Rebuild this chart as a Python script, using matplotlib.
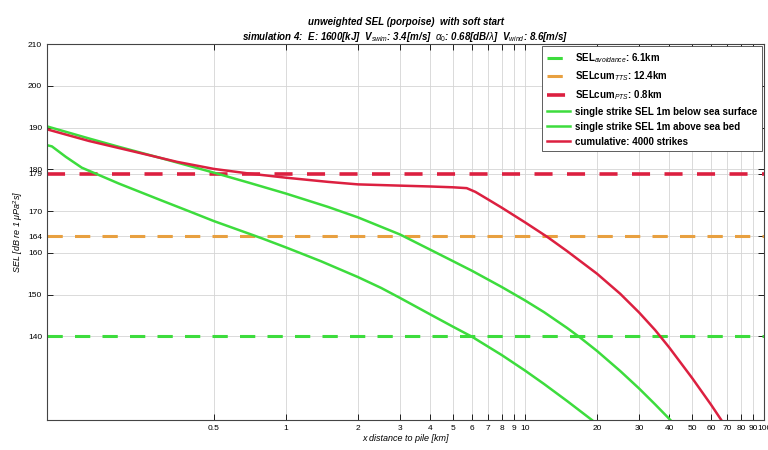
import numpy as np
import matplotlib.pyplot as plt

# distances [km] and SEL [dB]
km_surface = [0.1, 0.15, 0.2, 0.3, 0.5, 0.7, 1, 1.5, 2, 3, 4, 5, 6, 8, 10, 12, 15, 17, 20, 25, 30, 35, 40, 42]
sel_surface = [190.3, 187.4, 185.4, 182.7, 179.2, 176.8, 174.2, 171.0, 168.5, 164.4, 160.8, 158.0, 155.7,
               151.8, 148.6, 145.8, 142.0, 139.7, 136.5, 131.7, 127.5, 123.7, 120.3, 119.0]

km_bed = [0.1, 0.105, 0.12, 0.14, 0.2, 0.3, 0.4, 0.5, 0.7, 0.8, 1, 1.4, 2, 2.5, 3, 4, 5, 6, 8, 10, 12,
          15, 19, 21]
sel_bed = [185.8, 185.5, 183.0, 180.4, 176.6, 172.6, 169.8, 167.6, 164.6, 163.4, 161.3, 158.0, 154.2,
           151.6, 149.2, 145.3, 142.3, 139.9, 135.5, 131.8, 128.6, 124.5, 120.0, 118.0]

km_cum = [0.1, 0.15, 0.25, 0.35, 0.5, 0.7, 1, 1.5, 2, 3, 4, 5, 5.7, 6.2, 7, 8, 10, 12.4, 15, 20, 25, 30,
          35, 40, 50, 60, 67, 70]
sel_cum = [189.6, 186.8, 183.8, 181.8, 180.1, 179.0, 178.0, 177.0, 176.4, 176.1, 175.9, 175.7, 175.5,
           174.6, 172.8, 170.8, 167.3, 163.8, 160.4, 155.0, 150.2, 145.7, 141.5, 137.4, 130.0, 123.6,
           119.5, 117.5]

thr_avoid, thr_tts, thr_pts = 140, 164, 179
lbl_avoid = 'SEL$_{avoidance}$: 6.1km'
lbl_tts = 'SELcum$_{TTS}$: 12.4km'
lbl_pts = 'SELcum$_{PTS}$: 0.8km'

xticks = [0.5, 1, 2, 3, 4, 5, 6, 7, 8, 9, 10, 20, 30, 40, 50, 60, 70, 80, 90, 100]
xticklabels = ['0.5', '1', '2', '3', '4', '5', '6', '7', '8', '9', '10',
               '20', '30', '40', '50', '60', '70', '80', '90', '100']
yticks = [140, 150, 160, 164, 170, 179, 180, 190, 200, 210]

green = '#3ddc3d'
red = '#dc2040'
orange = '#e8a040'

plt.rcParams['font.family'] = ['Liberation Sans', 'DejaVu Sans']
plt.rcParams['mathtext.fontset'] = 'custom'
plt.rcParams['mathtext.it'] = 'Liberation Sans:italic'
plt.rcParams['mathtext.rm'] = 'Liberation Sans'

fig = plt.figure(figsize=(7.68, 4.5), dpi=100)
ax = fig.add_axes([0.061, 0.067, 0.934, 0.835])

ax.axhline(thr_avoid, color=green, lw=2.2, ls=(0, (5, 4)), label=lbl_avoid)
ax.axhline(thr_tts, color=orange, lw=2.2, ls=(0, (5, 4)), label=lbl_tts)
ax.axhline(thr_pts, color=red, lw=2.6, ls=(0, (5, 4)), label=lbl_pts)
ax.plot(km_surface, sel_surface, color=green, lw=1.8, label='single strike SEL 1m below sea surface')
ax.plot(km_bed, sel_bed, color=green, lw=1.8, label='single strike SEL 1m above sea bed')
ax.plot(km_cum, sel_cum, color=red, lw=1.8, label='cumulative: 4000 strikes')

ax.set_xscale('log')
ax.set_xlim(0.1, 100)
ax.set_ylim(120, 210)
ax.set_xticks(xticks)
ax.set_xticklabels(xticklabels)
ax.xaxis.set_minor_locator(plt.NullLocator())
ax.set_yticks(yticks)
ax.tick_params(direction='in', labelsize=6, top=True, right=True, length=4, width=0.6)
ax.grid(True, color='#d4d4d4', lw=0.6)
for s in ax.spines.values():
    s.set_linewidth(0.8)
    s.set_color('#444444')

ax.set_xlabel('x distance to pile [km]', fontsize=6.5, style='italic', labelpad=2)
ax.set_ylabel('SEL [dB re 1 $\\mu$Pa$^2$s]', fontsize=6.5, style='italic', labelpad=2)
ax.set_title('unweighted SEL (porpoise)  with soft start\n'
             'simulation 4:  E: 1600[kJ]  V$_{swim}$: 3.4[m/s]  $\\alpha_0$: 0.68[dB/$\\lambda$]  '
             'V$_{wind}$: 8.6[m/s]',
             fontsize=7, style='italic', fontweight='bold', pad=3, linespacing=1.3)

leg = ax.legend(loc='upper right', prop={'size': 7, 'weight': 'bold'}, handlelength=2.4,
                handletextpad=0.5, borderpad=0.5, labelspacing=0.5, borderaxespad=0.2,
                framealpha=1, fancybox=False, edgecolor='#444444')
leg.get_frame().set_linewidth(0.6)

fig.savefig('out.png', dpi=100)
